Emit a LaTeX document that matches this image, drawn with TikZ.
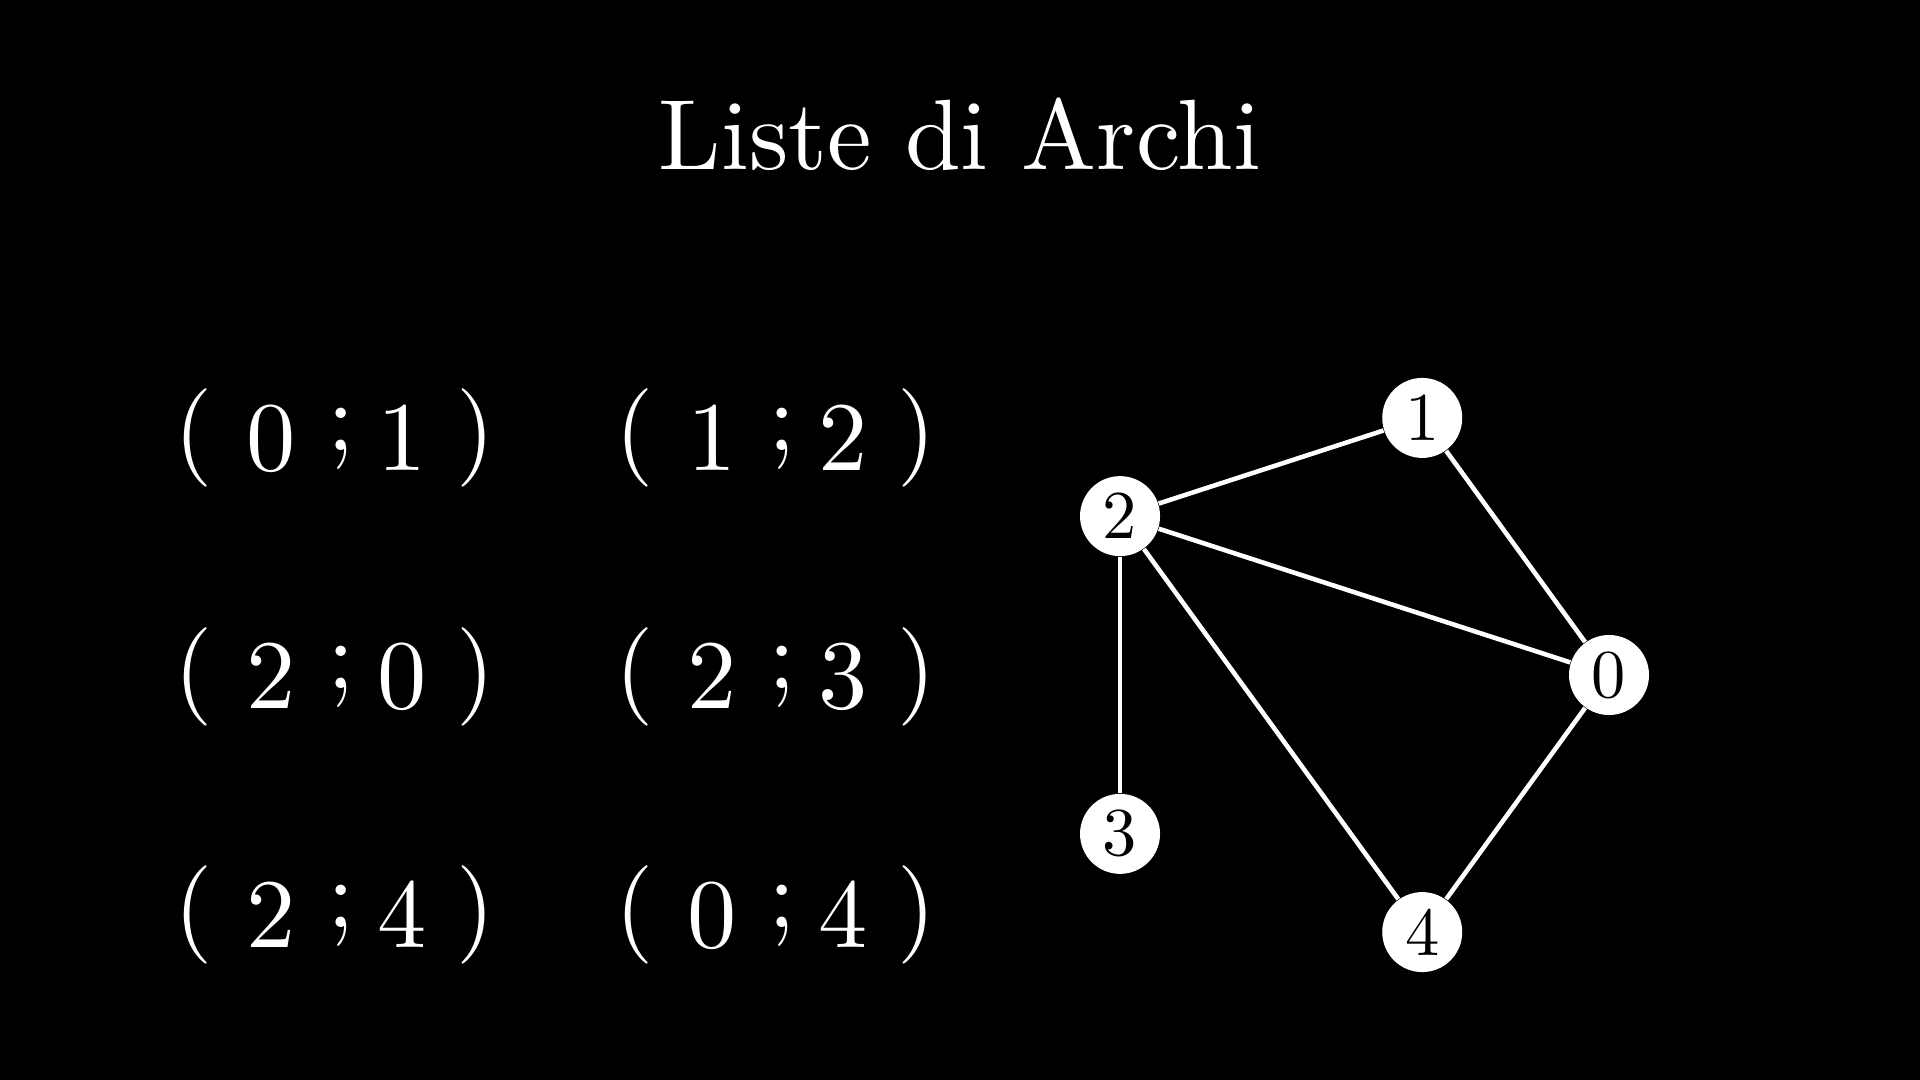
\documentclass[tikz,border=0pt]{standalone}
\usepackage{fontspec}
\setmainfont{lmroman10-regular}[Extension=.otf]
\usetikzlibrary{calc}
\tikzset{
  vtx/.style={circle, fill=white, inner sep=0pt, minimum size=0.8cm, text=black, font=\fontsize{19.5}{20}\selectfont},
  edge/.style={draw=white, line width=1.3pt},
  pairtxt/.style={text=white, anchor=base, inner sep=0pt, font=\fontsize{28}{30}\selectfont},
  titletxt/.style={text=white, anchor=base, inner sep=0pt, font=\fontsize{28.45}{34}\selectfont}
}
\newcommand{\pairof}[2]{\raisebox{0.072em}{(}\hspace{9.5pt}#1\hspace{9pt}\raisebox{0.2em}{;}\hspace{6.5pt}#2\hspace{8.5pt}\raisebox{0.072em}{)}}
\begin{document}
\begin{tikzpicture}
  \fill[black] (0,0) rectangle (19.2,-10.8);
  \useasboundingbox (0,0) rectangle (19.2,-10.8);

  \node[titletxt] (title) at (9.6,-1.70) {Liste di Archi};

  \node[pairtxt] (p01) at (3.35,-4.70) {\pairof{0}{1}};
  \node[pairtxt] (p12) at (7.76,-4.70) {\pairof{1}{2}};
  \node[pairtxt] (p20) at (3.35,-7.085) {\pairof{2}{0}};
  \node[pairtxt] (p23) at (7.76,-7.085) {\pairof{2}{3}};
  \node[pairtxt] (p24) at (3.35,-9.47) {\pairof{2}{4}};
  \node[pairtxt] (p04) at (7.76,-9.47) {\pairof{0}{4}};

  \coordinate (gc) at (13.387,-6.75);
  \node[vtx] (v0) at ($(gc)+(0:2.703)$) {0};
  \node[vtx] (v1) at ($(gc)+(72:2.703)$) {1};
  \node[vtx] (v2) at ($(gc)+(144:2.703)$) {2};
  \node[vtx] (v3) at ($(gc)+(216:2.703)$) {3};
  \node[vtx] (v4) at ($(gc)+(288:2.703)$) {4};

  \draw[edge] (v0) -- (v1);
  \draw[edge] (v1) -- (v2);
  \draw[edge] (v2) -- (v0);
  \draw[edge] (v2) -- (v3);
  \draw[edge] (v2) -- (v4);
  \draw[edge] (v0) -- (v4);
\end{tikzpicture}
\end{document}
